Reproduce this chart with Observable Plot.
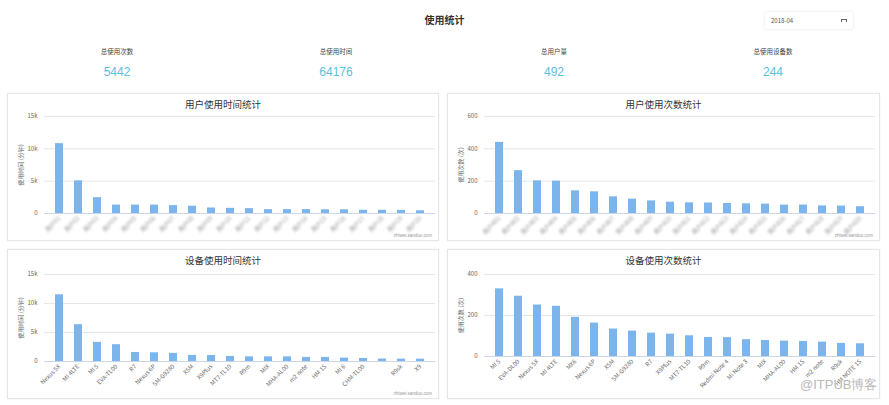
<!DOCTYPE html>
<html><head><meta charset="utf-8">
<script src="https://cdn.jsdelivr.net/npm/d3@7"></script>
<script src="https://cdn.jsdelivr.net/npm/@observablehq/plot@0.6"></script>
<style>
body{margin:0;width:889px;height:405px;position:relative;background:#fff;font-family:"Noto Sans CJK SC","Noto Sans",sans-serif;overflow:hidden}
.abs{position:absolute}
#title{left:0;width:889px;top:12px;text-align:center;font-size:10px;font-weight:bold;color:#333;line-height:16px}
#date{left:765px;top:12px;width:88px;height:17px;box-shadow:0 0 3px rgba(0,0,0,0.12);border-radius:2px;font-size:6px;color:#555;line-height:17px}
#date span{position:absolute;left:6px}
#date i{position:absolute;right:6px;top:7px;width:4px;height:2px;border-top:1px solid #666;border-left:1px solid #666;border-right:1px solid #666}
.stat{width:200px;text-align:center}
.stat .lab{font-size:6.5px;color:#444;line-height:10px}
.stat .val{font-size:12px;color:#5bc0de;margin-top:9px;line-height:14px;font-family:"Liberation Sans",sans-serif}
.panel{border:1px solid #e6e6e6;box-shadow:0 0 2px rgba(0,0,0,0.06);background:#fff}
.ptitle{position:absolute;left:0;right:0;top:3px;text-align:center;font-size:9.5px;color:#333;line-height:14px}
.credit{position:absolute;right:6px;bottom:2px;font-size:4.5px;color:#999;font-family:"Liberation Sans",sans-serif}
.chart{position:absolute;left:0}
#wm{left:800px;top:376px;font-size:13px;color:#b8b8b8;font-family:"Liberation Sans",sans-serif;text-shadow:0 0 2px #fff}
</style></head>
<body>
<div id="title" class="abs">使用统计</div>
<div id="date" class="abs"><span>2018-04</span><i></i></div>
<div id="stats"></div>
<div id="p1" class="abs panel" style="left:7px;top:93px;width:430px;height:146px"><div class="ptitle">用户使用时间统计</div><div class="credit">zhiwei.sanduo.com</div></div>
<div id="p2" class="abs panel" style="left:447px;top:93px;width:431px;height:146px"><div class="ptitle">用户使用次数统计</div><div class="credit">zhiwei.sanduo.com</div></div>
<div id="p3" class="abs panel" style="left:7px;top:249px;width:430px;height:148px"><div class="ptitle">设备使用时间统计</div><div class="credit">zhiwei.sanduo.com</div></div>
<div id="p4" class="abs panel" style="left:447px;top:249px;width:431px;height:148px"><div class="ptitle">设备使用次数统计</div></div>
<div id="wm" class="abs">@ITPUB博客</div>
<script>
// ---- summary figures ----
const statLabels = ["总使用次数", "总使用时间", "总用户量", "总使用设备数"];
const statValues = [5442, 64176, 492, 244];

// ---- user charts (names are mosaicked in the original) ----
const userTimeNames = ["用户01","用户02","用户03","用户04","用户05","用户06","用户07","用户08","用户09","用户10","用户11","用户12","用户13","用户14","用户15","用户16","用户17","用户18","用户19","用户20"];
const userTimeValues = [10800, 5050, 2450, 1300, 1300, 1300, 1220, 1130, 850, 800, 750, 600, 600, 600, 580, 570, 500, 500, 480, 420];
const userCountNames = ["用户A01","用户A02","用户A03","用户A04","用户A05","用户A06","用户A07","用户A08","用户A09","用户A10","用户A11","用户A12","用户A13","用户A14","用户A15","用户A16","用户A17","用户A18","用户A19","用户A20"];
const userCountValues = [440, 265, 202, 200, 140, 134, 103, 89, 78, 70, 66, 65, 62, 60, 58, 52, 52, 47, 46, 42];

// ---- device charts ----
const devTimeNames = ["Nexus 5X","MI 4LTE","MI 5","EVA-TL00","R7","Nexus 6P","SM-G9280","X5M","X9Plus","MT7-TL10","R9m","MIX","MHA-AL00","m2 note","HM 1S","MI 6","CHM-TL00","","R9sk","X9"];
const devTimeValues = [11500, 6350, 3300, 2900, 1560, 1500, 1400, 1050, 1040, 870, 800, 800, 800, 700, 700, 580, 520, 420, 410, 400];
const devCountNames = ["MI 5","EVA-DL00","Nexus 5X","MI 4LTE","MX6","Nexus 6P","X5M","SM-G9280","R7","X9Plus","MT7-TL10","R9m","Redmi Note 4","Mi Note 3","MIX","MHA-AL00","HM 1S","m2 note","R9sk","HM NOTE 1S"];
const devCountValues = [330, 294, 251, 245, 191, 163, 134, 124, 114, 109, 101, 93, 92, 82, 78, 75, 73, 70, 64, 62];

// ---- axis ticks ----
const timeTicks = [0, 5000, 10000, 15000];
const userCountTicks = [0, 200, 400, 600];
const devCountTicks = [0, 200, 400];

const stats = document.getElementById("stats");
const statCenters = [117, 336, 554, 773];
statLabels.forEach((l, i) => {
  const d = document.createElement("div");
  d.className = "abs stat";
  d.style.left = (statCenters[i] - 100) + "px";
  d.style.top = "46px";
  d.innerHTML = `<div class="lab">${l}</div><div class="val">${statValues[i]}</div>`;
  stats.appendChild(d);
});

const kfmt = d => d === 0 ? "0" : (d / 1000) + "k";

function chart({names, values, ticks, fmt, ylabel, height, marginTop, marginBottom, blur}) {
  const data = names.map((n, i) => ({name: n, value: values[i]}));
  const svg = Plot.plot({
    width: 430, height, marginLeft: 36, marginRight: 3, marginTop, marginBottom,
    style: {fontSize: "6px", fontFamily: "'Noto Sans CJK SC','Noto Sans',sans-serif", color: "#666", background: "transparent", overflow: "visible"},
    x: {domain: names, paddingInner: 0.58, paddingOuter: 0.29, label: null},
    y: {domain: [ticks[0], ticks[ticks.length - 1]], label: null},
    marks: [
      Plot.gridY(ticks.slice(1), {stroke: "#e6e6e6", strokeOpacity: 1}),
      Plot.barY(data, {x: "name", y: "value", fill: "#7cb5ec"}),
      Plot.ruleY([0], {stroke: "#ccd6eb"}),
      Plot.axisX({tickSize: 0, tickRotate: -45, tickPadding: 4, fill: "#666", label: null}),
      Plot.axisY(ticks, {tickSize: 0, tickPadding: 7, tickFormat: fmt, fill: "#666", label: ylabel, labelAnchor: "center", labelArrow: "none", labelOffset: 26})
    ]
  });
  if (blur) {
    svg.querySelectorAll('g[aria-label="x-axis tick label"] text').forEach(t => { t.style.filter = "blur(0.9px)"; t.setAttribute("fill", "#999"); });
  }
  return svg;
}

function place(id, top, svg) {
  svg.classList.add("chart");
  svg.style.position = "absolute";
  svg.style.left = "0px";
  svg.style.top = top + "px";
  document.getElementById(id).appendChild(svg);
}

place("p1", 14, chart({names: userTimeNames, values: userTimeValues, ticks: timeTicks, fmt: kfmt, ylabel: "使用时间 (分钟)", height: 132, marginTop: 8, marginBottom: 27, blur: true}));
place("p2", 14, chart({names: userCountNames, values: userCountValues, ticks: userCountTicks, fmt: d => d, ylabel: "使用次数 (次)", height: 132, marginTop: 8, marginBottom: 27, blur: true}));
place("p3", 17, chart({names: devTimeNames, values: devTimeValues, ticks: timeTicks, fmt: kfmt, ylabel: "使用时间 (分钟)", height: 130, marginTop: 7, marginBottom: 36, blur: false}));
place("p4", 17, chart({names: devCountNames, values: devCountValues, ticks: devCountTicks, fmt: d => d, ylabel: "使用次数 (次)", height: 130, marginTop: 7, marginBottom: 41, blur: false}));
</script>
</body></html>
